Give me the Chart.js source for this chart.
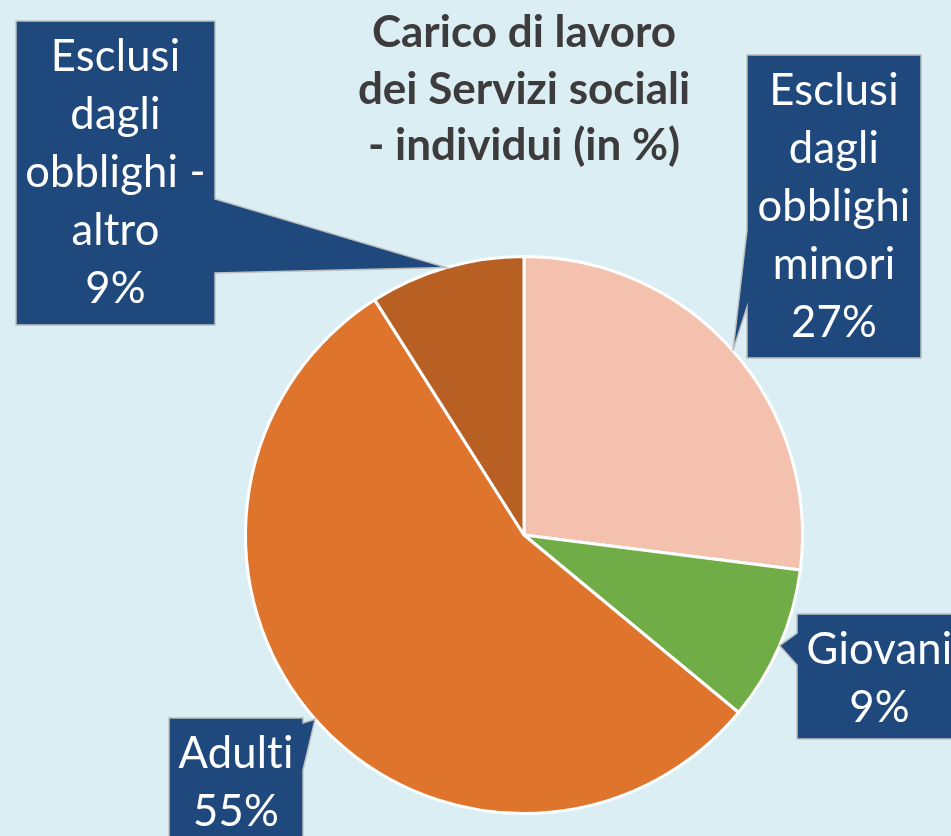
<!DOCTYPE html>
<html>
<head>
<meta charset="utf-8">
<script src="https://cdn.jsdelivr.net/npm/chart.js@4"></script>
<style>
  html, body { margin: 0; padding: 0; background: #DAEEF3; }
  #wrap { width: 951px; height: 836px; }
</style>
</head>
<body>
<div id="wrap"><canvas id="torta" width="951" height="836"></canvas></div>
<script>
// dati
const categorie = ['Esclusi dagli obblighi minori', 'Giovani', 'Adulti', 'Esclusi dagli obblighi - altro'];
const quote = [27, 9, 55, 9];
const righeEtichetta = [
  ['Esclusi', 'dagli', 'obblighi', 'minori'],
  ['Giovani'],
  ['Adulti'],
  ['Esclusi', 'dagli', 'obblighi -', 'altro']
];
const titolo = ['Carico di lavoro', 'dei Servizi sociali', '- individui (in %)'];

const colori = ['#F5C1AF', '#70AD47', '#DF742D', '#B86024'];

// riquadri dei callout: rettangolo + lato e tratto del bordo da cui parte la punta
const callout = [
  { x: 747, y: 55,  w: 174, h: 303, lato: 'left',  b0: 230, b1: 307 },
  { x: 797, y: 614, w: 165, h: 125, lato: 'left',  b0: 633, b1: 665 },
  { x: 169, y: 718, w: 134, h: 130, lato: 'right', b0: 723, b1: 770 },
  { x: 16,  y: 21,  w: 199, h: 304, lato: 'right', b0: 199, b1: 273 }
];

const FONT_ETI = '43.5px Lato';
const FONT_TIT = 'bold 44px Lato';

const pluginCallout = {
  id: 'callout',
  afterDraw(chart) {
    const ctx = chart.ctx;
    const meta = chart.getDatasetMeta(0);

    // titolo
    ctx.save();
    ctx.fillStyle = '#3D3B3B';
    ctx.font = FONT_TIT;
    ctx.textAlign = 'center';
    ctx.textBaseline = 'alphabetic';
    titolo.forEach((t, i) => ctx.fillText(t, 524, 47 + i * 56.5));
    ctx.restore();

    meta.data.forEach((arc, i) => {
      const c = callout[i];
      const mid = (arc.startAngle + arc.endAngle) / 2;
      const tx = arc.x + Math.cos(mid) * arc.outerRadius;
      const ty = arc.y + Math.sin(mid) * arc.outerRadius;
      const r = c.x + c.w, b = c.y + c.h;

      ctx.save();
      ctx.beginPath();
      if (c.lato === 'right') {
        ctx.moveTo(c.x, c.y);
        ctx.lineTo(r, c.y);
        ctx.lineTo(r, c.b0);
        ctx.lineTo(tx, ty);
        ctx.lineTo(r, c.b1);
        ctx.lineTo(r, b);
        ctx.lineTo(c.x, b);
      } else {
        ctx.moveTo(c.x, c.y);
        ctx.lineTo(r, c.y);
        ctx.lineTo(r, b);
        ctx.lineTo(c.x, b);
        ctx.lineTo(c.x, c.b1);
        ctx.lineTo(tx, ty);
        ctx.lineTo(c.x, c.b0);
      }
      ctx.closePath();
      ctx.fillStyle = '#1F497D';
      ctx.fill();
      ctx.lineWidth = 1.5;
      ctx.strokeStyle = '#BFBFBF';
      ctx.lineJoin = 'miter';
      ctx.stroke();

      const righe = righeEtichetta[i].concat([chart.data.datasets[0].data[i] + '%']);
      ctx.fillStyle = '#FFFFFF';
      ctx.font = FONT_ETI;
      ctx.letterSpacing = '0.2px'; // niente legatura "ti"
      ctx.textAlign = 'center';
      ctx.textBaseline = 'alphabetic';
      const cx = c.x + c.w / 2;
      righe.forEach((t, k) => ctx.fillText(t, cx, c.y + 50 + k * 58));
      ctx.restore();
    });
  }
};

new Chart(document.getElementById('torta'), {
  type: 'pie',
  data: {
    labels: categorie,
    datasets: [{
      data: quote,
      backgroundColor: colori,
      borderColor: '#FFFFFF',
      borderWidth: 3
    }]
  },
  options: {
    responsive: false,
    animation: false,
    layout: { padding: { left: 244, right: 147, top: 255, bottom: 21 } },
    plugins: {
      legend: { display: false },
      tooltip: { enabled: false }
    }
  },
  plugins: [pluginCallout]
});
</script>
</body>
</html>
